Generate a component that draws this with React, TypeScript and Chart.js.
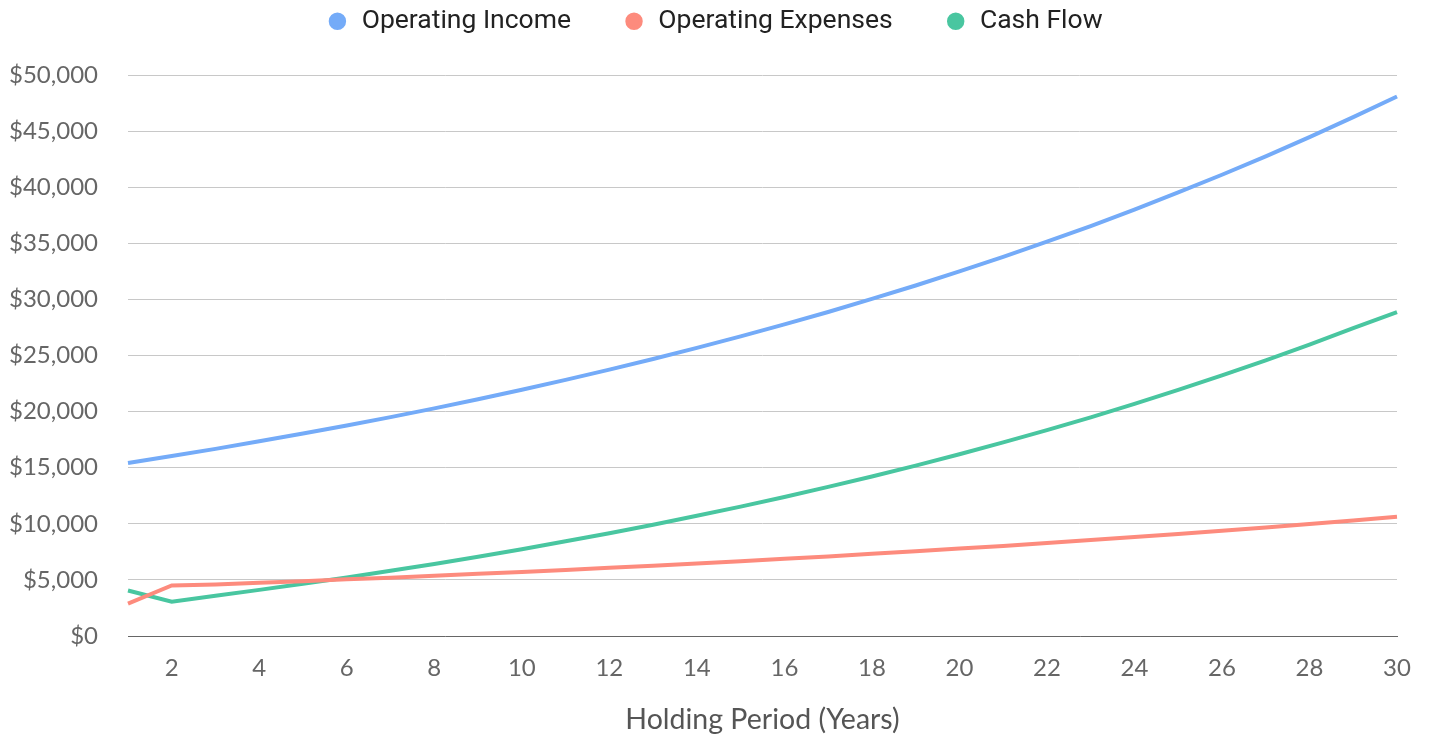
import React, { useEffect, useRef } from "react";
import { Chart, registerables } from "chart.js";

Chart.register(...registerables);

const years: string[] = Array.from({ length: 30 }, (_, i) => String(i + 1));

const operatingIncome: number[] = [
  15420, 16040, 16680, 17350, 18040, 18760, 19510, 20290, 21100, 21950,
  22830, 23740, 24690, 25680, 26700, 27770, 28880, 30040, 31240, 32490,
  33790, 35140, 36540, 38010, 39530, 41110, 42750, 44460, 46240, 48080,
];

const operatingExpenses: number[] = [
  2880, 4500, 4600, 4740, 4890, 5050, 5200, 5370, 5540, 5710,
  5890, 6080, 6270, 6460, 6670, 6880, 7090, 7320, 7550, 7790,
  8030, 8290, 8550, 8820, 9100, 9380, 9680, 9990, 10300, 10630,
];

const cashFlow: number[] = [
  4060, 3060, 3580, 4110, 4650, 5210, 5810, 6420, 7060, 7740,
  8440, 9160, 9920, 10720, 11530, 12390, 13290, 14220, 15190, 16200,
  17260, 18350, 19490, 20690, 21930, 23230, 24570, 25970, 27440, 28870,
];

const seriesLabels = ["Operating Income", "Operating Expenses", "Cash Flow"];
const seriesColors = ["#74abf8", "#fd8b7d", "#49c6a0"];

const LEGEND_PAD = 52;

const legendLayoutPlugin = {
  id: "legendLayout",
  beforeInit(chart: any) {
    const legend = chart.legend;
    if (!legend) return;
    const origFit = legend.fit;
    legend.fit = function () {
      origFit.call(this);
      this.height = 119;
    };
  },
  afterLayout(chart: any) {
    const legend = chart.legend;
    if (!legend) return;
    legend.left += 12;
    legend.right += 12;
  },
};

export default function App() {
  const ref = useRef<HTMLCanvasElement | null>(null);

  useEffect(() => {
    if (!ref.current) return;
    const values = [operatingIncome, operatingExpenses, cashFlow];
    const chart = new Chart(ref.current, {
      type: "line",
      data: {
        labels: years,
        datasets: values.map((v, i) => ({
          label: seriesLabels[i],
          data: v,
          borderColor: seriesColors[i],
          backgroundColor: seriesColors[i],
          borderWidth: 4,
          pointRadius: 0,
          pointHoverRadius: 0,
          tension: 0,
          fill: false,
        })),
      },
      plugins: [legendLayoutPlugin],
      options: {
        animation: false,
        responsive: true,
        maintainAspectRatio: false,
        layout: { padding: { top: -52, right: 26, bottom: 0, left: 0 } },
        plugins: {
          legend: {
            display: true,
            position: "top",
            labels: {
              usePointStyle: true,
              pointStyle: "circle",
              boxWidth: 22,
              boxHeight: 9.5,
              padding: LEGEND_PAD,
              color: "#222",
              font: { family: "Roboto", size: 26.5 },
            },
          },
          tooltip: { enabled: false },
        },
        scales: {
          x: {
            type: "category",
            offset: false,
            grid: { display: false, drawTicks: false },
            border: { display: true, color: "#666", width: 1 },
            ticks: {
              autoSkip: false,
              maxRotation: 0,
              padding: 18,
              color: "#666",
              font: { family: "Lato", size: 24 },
              callback: (_v: any, idx: number) => ((idx + 1) % 2 === 0 ? years[idx] : ""),
            },
            title: {
              display: true,
              text: "Holding Period (Years)",
              color: "#555",
              font: { family: "Lato", size: 28.5 },
              padding: { top: 20, bottom: 5 },
            },
            afterFit: (scale: any) => {
              scale.height = 106;
              scale.paddingLeft = 0;
              scale.paddingRight = 0;
            },
          },
          y: {
            min: 0,
            max: 50000,
            ticks: {
              stepSize: 5000,
              padding: 30,
              color: "#666",
              font: { family: "Lato", size: 24 },
              callback: (v: any) => "$" + Number(v).toLocaleString("en-US"),
            },
            grid: { color: "#c8c8c8", lineWidth: 1, drawTicks: false },
            border: { display: false },
            afterFit: (scale: any) => {
              scale.width = 120;
            },
          },
        },
      },
    });
    return () => chart.destroy();
  }, []);

  return (
    <div style={{ width: "100%", height: "734px", marginBottom: "-8px", position: "relative" }}>
      <canvas ref={ref} />
    </div>
  );
}
